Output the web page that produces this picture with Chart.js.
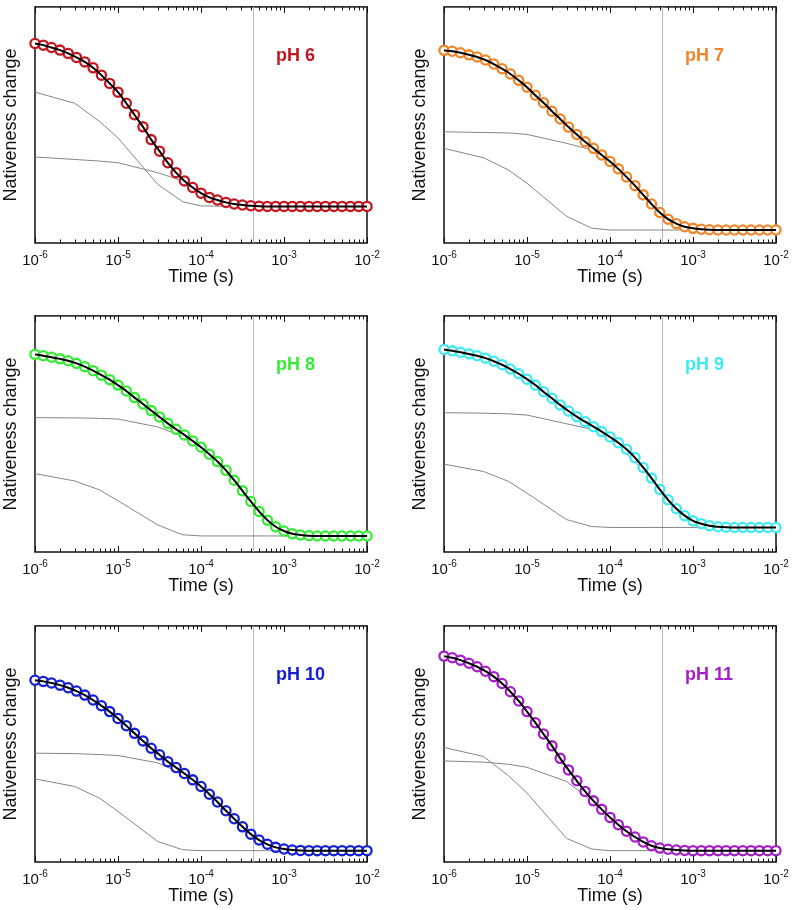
<!DOCTYPE html>
<html>
<head>
<meta charset="utf-8">
<script src="https://cdn.jsdelivr.net/npm/chart.js@4.4.1/dist/chart.umd.min.js"></script>
<style>
  body { margin: 0; background: #fff; width: 794px; height: 910px; position: relative; overflow: hidden; }
  canvas { position: absolute; }
</style>
</head>
<body>
<script>
// Sampling times of the measured points (10 per decade)
const timeSteps = [
  1e-6, 1.26e-6, 1.58e-6, 2e-6, 2.51e-6, 3.16e-6, 3.98e-6, 5.01e-6, 6.31e-6, 7.94e-6,
  1e-5, 1.26e-5, 1.58e-5, 2e-5, 2.51e-5, 3.16e-5, 3.98e-5, 5.01e-5, 6.31e-5, 7.94e-5,
  1e-4, 1.26e-4, 1.58e-4, 2e-4, 2.51e-4, 3.16e-4, 3.98e-4, 5.01e-4, 6.31e-4, 7.94e-4,
  1e-3, 1.26e-3, 1.58e-3, 2e-3, 2.51e-3, 3.16e-3, 3.98e-3, 5.01e-3, 6.31e-3, 7.94e-3,
  1e-2
];
// Coarser sampling of the two component curves
const componentTimes = [1e-6, 3e-6, 6e-6, 1e-5, 3e-5, 6e-5, 1e-4, 3e-4, 6e-4, 1e-3, 3e-3, 6e-3, 1e-2];
const markerTime = 4.3e-4;

const phLabels = ['pH 6', 'pH 7', 'pH 8', 'pH 9', 'pH 10', 'pH 11'];
const phColors = ['#c4161f', '#f0862a', '#35ec35', '#3eeaf2', '#1420d2', '#a41fc6'];

// Nativeness change (0 = bottom of plot, 1 = top)
const ph6Data = [0.845, 0.838, 0.828, 0.817, 0.803, 0.786, 0.767, 0.742, 0.711, 0.676,
  0.639, 0.592, 0.543, 0.492, 0.438, 0.389, 0.340, 0.298, 0.263, 0.235,
  0.211, 0.193, 0.182, 0.172, 0.165, 0.161, 0.158, 0.156, 0.155, 0.155,
  0.155, 0.155, 0.155, 0.155, 0.155, 0.155, 0.155, 0.155, 0.155, 0.155, 0.155];
const ph6Fast = [0.639, 0.592, 0.515, 0.445, 0.249, 0.175, 0.157, 0.155, 0.155, 0.155, 0.155, 0.155, 0.155];
const ph6Slow = [0.364, 0.354, 0.347, 0.340, 0.298, 0.263, 0.209, 0.160, 0.156, 0.155, 0.155, 0.155, 0.155];

const ph7Data = [0.816, 0.812, 0.806, 0.797, 0.788, 0.775, 0.758, 0.738, 0.716, 0.689,
  0.660, 0.626, 0.594, 0.558, 0.525, 0.491, 0.460, 0.429, 0.401, 0.373,
  0.345, 0.314, 0.280, 0.243, 0.204, 0.165, 0.129, 0.101, 0.082, 0.069,
  0.062, 0.058, 0.056, 0.055, 0.055, 0.055, 0.055, 0.055, 0.055, 0.055, 0.055];
const ph7Fast = [0.401, 0.361, 0.309, 0.253, 0.113, 0.063, 0.055, 0.055, 0.055, 0.055, 0.055, 0.055, 0.055];
const ph7Slow = [0.471, 0.468, 0.466, 0.460, 0.422, 0.395, 0.345, 0.176, 0.084, 0.062, 0.055, 0.055, 0.055];

const ph8Data = [0.837, 0.831, 0.825, 0.818, 0.810, 0.799, 0.785, 0.768, 0.749, 0.730,
  0.707, 0.682, 0.654, 0.627, 0.599, 0.572, 0.545, 0.520, 0.496, 0.470,
  0.444, 0.414, 0.383, 0.346, 0.304, 0.259, 0.214, 0.172, 0.135, 0.107,
  0.089, 0.077, 0.072, 0.069, 0.068, 0.068, 0.068, 0.068, 0.068, 0.068, 0.068];
const ph8Fast = [0.332, 0.301, 0.263, 0.217, 0.115, 0.073, 0.068, 0.068, 0.068, 0.068, 0.068, 0.068, 0.068];
const ph8Slow = [0.569, 0.568, 0.566, 0.563, 0.530, 0.490, 0.444, 0.270, 0.140, 0.089, 0.068, 0.068, 0.068];

const ph9Data = [0.858, 0.852, 0.846, 0.839, 0.831, 0.821, 0.808, 0.793, 0.775, 0.755,
  0.732, 0.707, 0.679, 0.651, 0.623, 0.597, 0.573, 0.552, 0.531, 0.510,
  0.487, 0.463, 0.435, 0.400, 0.358, 0.313, 0.265, 0.221, 0.183, 0.154,
  0.132, 0.120, 0.111, 0.107, 0.105, 0.104, 0.104, 0.104, 0.104, 0.104, 0.104];
const ph9Fast = [0.372, 0.341, 0.299, 0.249, 0.137, 0.108, 0.104, 0.104, 0.104, 0.104, 0.104, 0.104, 0.104];
const ph9Slow = [0.590, 0.588, 0.585, 0.580, 0.543, 0.520, 0.487, 0.320, 0.190, 0.132, 0.104, 0.104, 0.104];

const ph10Data = [0.770, 0.765, 0.758, 0.749, 0.738, 0.724, 0.707, 0.686, 0.662, 0.637,
  0.608, 0.577, 0.545, 0.513, 0.482, 0.454, 0.425, 0.400, 0.375, 0.348,
  0.320, 0.287, 0.254, 0.217, 0.183, 0.149, 0.118, 0.093, 0.075, 0.062,
  0.055, 0.051, 0.049, 0.048, 0.048, 0.048, 0.048, 0.048, 0.048, 0.048, 0.048];
const ph10Fast = [0.352, 0.320, 0.270, 0.214, 0.087, 0.052, 0.048, 0.048, 0.048, 0.048, 0.048, 0.048, 0.048];
const ph10Slow = [0.461, 0.459, 0.455, 0.451, 0.420, 0.375, 0.320, 0.155, 0.075, 0.055, 0.048, 0.048, 0.048];

const ph11Data = [0.872, 0.865, 0.855, 0.842, 0.827, 0.808, 0.785, 0.756, 0.721, 0.682,
  0.637, 0.590, 0.542, 0.492, 0.439, 0.390, 0.344, 0.299, 0.259, 0.223,
  0.189, 0.158, 0.130, 0.106, 0.085, 0.069, 0.059, 0.054, 0.051, 0.049,
  0.048, 0.048, 0.048, 0.048, 0.048, 0.048, 0.048, 0.048, 0.048, 0.048, 0.048];
const ph11Fast = [0.485, 0.447, 0.365, 0.292, 0.100, 0.055, 0.048, 0.048, 0.048, 0.048, 0.048, 0.048, 0.048];
const ph11Slow = [0.428, 0.423, 0.414, 0.401, 0.341, 0.260, 0.190, 0.070, 0.051, 0.048, 0.048, 0.048, 0.048];

// x axis ticks
const decadeTicks = [1e-6, 1e-5, 1e-4, 1e-3, 1e-2];
const decadeExponents = ['-6', '-5', '-4', '-3', '-2'];
const minorMultipliers = [2, 3, 4, 5, 6, 7, 8, 9];

const fontFamily = '"Liberation Sans", Arial, Helvetica, sans-serif';

const panels = [
    { data: ph6Data, fast: ph6Fast, slow: ph6Slow },
    { data: ph7Data, fast: ph7Fast, slow: ph7Slow },
    { data: ph8Data, fast: ph8Fast, slow: ph8Slow },
    { data: ph9Data, fast: ph9Fast, slow: ph9Slow },
    { data: ph10Data, fast: ph10Fast, slow: ph10Slow },
    { data: ph11Data, fast: ph11Fast, slow: ph11Slow }
];

// layout of the grid (plot area corners in page pixels)
const colPlotLeft = [35, 444];
const rowPlotTop = [5, 314, 624];
const canvasWidths = [395, 385];
const canvasHeight = 289;

function toPoints(xs, ys) {
    return xs.map((x, i) => ({ x: x, y: ys[i] }));
}

// frame, inward ticks, superscript tick labels and the pH label
const axisPlugin = {
    id: 'axisDecor',
    beforeDatasetsDraw(chart) {
        const { ctx, chartArea: a, scales: { x } } = chart;
        ctx.save();
        ctx.strokeStyle = '#111';
        ctx.lineWidth = 1.5;
        ctx.strokeRect(a.left, a.top, a.right - a.left, a.bottom - a.top);
        ctx.lineWidth = 1;
        ctx.beginPath();
        decadeTicks.forEach((d, k) => {
            const px = Math.round(x.getPixelForValue(d)) + 0.5;
            ctx.moveTo(px, a.bottom); ctx.lineTo(px, a.bottom - 6);
            ctx.moveTo(px, a.top); ctx.lineTo(px, a.top + 6);
            if (k === decadeTicks.length - 1) return;
            minorMultipliers.forEach(m => {
                const mx = Math.round(x.getPixelForValue(m * d)) + 0.5;
                ctx.moveTo(mx, a.bottom); ctx.lineTo(mx, a.bottom - 3.5);
                ctx.moveTo(mx, a.top); ctx.lineTo(mx, a.top + 3.5);
            });
        });
        ctx.stroke();
        ctx.restore();
    },
    afterDraw(chart, args, opts) {
        const { ctx, chartArea: a, scales: { x } } = chart;
        ctx.save();
        ctx.fillStyle = '#111';
        ctx.textBaseline = 'alphabetic';
        decadeTicks.forEach((d, k) => {
            const px = x.getPixelForValue(d);
            ctx.font = '15px ' + fontFamily;
            const wb = ctx.measureText('10').width;
            ctx.font = '10px ' + fontFamily;
            const we = ctx.measureText(decadeExponents[k]).width;
            const x0 = px - (wb + we) / 2;
            ctx.font = '15px ' + fontFamily;
            ctx.fillText('10', x0, a.bottom + 22);
            ctx.font = '10px ' + fontFamily;
            ctx.fillText(decadeExponents[k], x0 + wb, a.bottom + 15);
        });
        ctx.font = 'bold 18px ' + fontFamily;
        ctx.fillStyle = opts.color;
        ctx.fillText(opts.text, a.left + 241, a.top + 54);
        ctx.restore();
    }
};

panels.forEach((p, k) => {
    const col = k % 2;
    const row = Math.floor(k / 2);
    const canvas = document.createElement('canvas');
    const w = canvasWidths[col];
    canvas.width = w;
    canvas.height = canvasHeight;
    canvas.style.left = (colPlotLeft[col] - 35) + 'px';
    canvas.style.top = (rowPlotTop[row] - 5) + 'px';
    canvas.style.width = w + 'px';
    canvas.style.height = canvasHeight + 'px';
    document.body.appendChild(canvas);

    new Chart(canvas, {
        type: 'line',
        data: {
            datasets: [
                {   // fit
                    data: toPoints(timeSteps, p.data),
                    borderColor: '#000', borderWidth: 2, pointRadius: 0,
                    cubicInterpolationMode: 'monotone', clip: false, order: 0
                },
                {   // measured
                    data: toPoints(timeSteps, p.data),
                    showLine: false, pointRadius: 4.6, pointBorderWidth: 2.3,
                    pointBorderColor: phColors[k], pointBackgroundColor: '#fff',
                    clip: false, order: 1
                },
                {   // slow component
                    data: toPoints(componentTimes, p.slow),
                    borderColor: '#858585', borderWidth: 1, pointRadius: 0, tension: 0, order: 2
                },
                {   // fast component
                    data: toPoints(componentTimes, p.fast),
                    borderColor: '#858585', borderWidth: 1, pointRadius: 0, tension: 0, order: 3
                },
                {   // marker
                    data: [{ x: markerTime, y: 0 }, { x: markerTime, y: 1 }],
                    borderColor: '#b8b8b8', borderWidth: 1, pointRadius: 0, order: 4
                }
            ]
        },
        options: {
            responsive: false,
            animation: false,
            events: [],
            layout: { padding: { top: 5, left: 0, bottom: 0, right: w - 35 - 332 } },
            plugins: {
                legend: { display: false },
                tooltip: { enabled: false },
                axisDecor: { text: phLabels[k], color: phColors[k] }
            },
            scales: {
                x: {
                    type: 'logarithmic', min: 1e-6, max: 1e-2,
                    grid: { display: false }, border: { display: false },
                    ticks: { display: false },
                    title: { display: true, text: 'Time (s)', color: '#111',
                             font: { family: fontFamily, size: 18 }, padding: { top: 0, bottom: 1 } },
                    afterFit: s => { s.height = 46; }
                },
                y: {
                    min: 0, max: 1,
                    grid: { display: false }, border: { display: false },
                    ticks: { display: false },
                    title: { display: true, text: 'Nativeness change', color: '#111',
                             font: { family: fontFamily, size: 18 }, padding: { top: 0, bottom: 0 } },
                    afterFit: s => { s.width = 35; }
                }
            }
        },
        plugins: [axisPlugin]
    });
});
</script>
</body>
</html>
